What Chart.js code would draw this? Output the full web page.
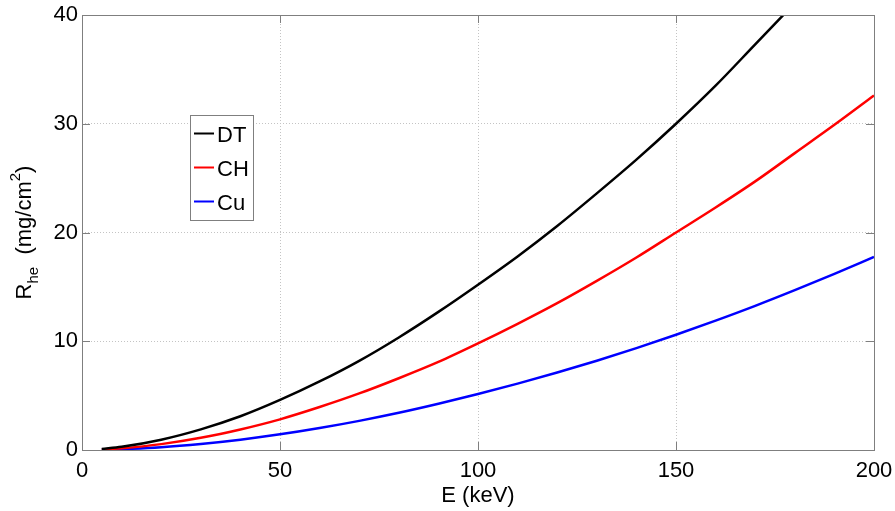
<!DOCTYPE html>
<html>
<head>
<meta charset="utf-8">
<script src="https://cdn.jsdelivr.net/npm/chart.js@4/dist/chart.umd.min.js"></script>
<style>
  html, body { margin: 0; padding: 0; background: #ffffff; }
  #wrap { width: 895px; height: 511px; }
</style>
</head>
<body>
<div id="wrap"><canvas id="c" width="895" height="511"></canvas></div>
<script>
// ---- Data ----
const energyDT = [5, 10, 20, 30, 40, 50, 60, 70, 80, 90, 100, 110, 120, 130, 140, 150, 160, 170, 180];
const rangeDT  = [0.09, 0.29, 0.95, 1.9, 3.1, 4.6, 6.3, 8.2, 10.35, 12.7, 15.2, 17.8, 20.6, 23.6, 26.7, 30.0, 33.5, 37.3, 41.1];

const energyCH = [5, 10, 20, 30, 40, 50, 60, 70, 80, 90, 100, 110, 120, 130, 140, 150, 160, 170, 180, 190, 200];
const rangeCH  = [0.045, 0.16, 0.54, 1.12, 1.89, 2.82, 3.95, 5.2, 6.6, 8.1, 9.8, 11.6, 13.5, 15.55, 17.7, 20.0, 22.3, 24.7, 27.3, 29.9, 32.6];

const energyCu = [5, 10, 20, 30, 40, 50, 60, 70, 80, 90, 100, 110, 120, 130, 140, 150, 160, 170, 180, 190, 200];
const rangeCu  = [0.02, 0.073, 0.26, 0.56, 0.95, 1.44, 2.02, 2.68, 3.42, 4.25, 5.15, 6.1, 7.12, 8.21, 9.37, 10.6, 11.9, 13.26, 14.7, 16.2, 17.75];

const seriesLabels = ['DT', 'CH', 'Cu'];
const seriesColors = ['#000000', '#ff0000', '#0000ff'];

const xTicks = [0, 50, 100, 150, 200];
const yTicks = [0, 10, 20, 30, 40];

const xTitle = 'E (keV)';

// ---- Build datasets ----
function pts(xs, ys) { return xs.map((x, i) => ({ x: x, y: ys[i] })); }
const seriesData = [pts(energyDT, rangeDT), pts(energyCH, rangeCH), pts(energyCu, rangeCu)];

const FONT = "'Liberation Sans', Arial, Helvetica, sans-serif";
Chart.defaults.font.family = FONT;
Chart.defaults.color = '#000000';

const frameColor = '#7f7f7f';

const framePlugin = {
  id: 'framePlugin',
  afterDatasetsDraw(chart) {
    const ctx = chart.ctx;
    const a = chart.chartArea;
    const xs = chart.scales.x, ys = chart.scales.y;
    ctx.save();
    ctx.strokeStyle = frameColor;
    ctx.lineWidth = 1;
    ctx.setLineDash([]);
    // box
    ctx.strokeRect(Math.round(a.left) + 0.5, Math.round(a.top) + 0.5,
                   Math.round(a.right - a.left), Math.round(a.bottom - a.top));
    // inward ticks
    const tl = 8;
    ctx.beginPath();
    xTicks.forEach(v => {
      const px = Math.round(xs.getPixelForValue(v)) + 0.5;
      ctx.moveTo(px, a.bottom); ctx.lineTo(px, a.bottom - tl);
      ctx.moveTo(px, a.top); ctx.lineTo(px, a.top + tl);
    });
    yTicks.forEach(v => {
      const py = Math.round(ys.getPixelForValue(v)) + 0.5;
      ctx.moveTo(a.left, py); ctx.lineTo(a.left + tl, py);
      ctx.moveTo(a.right, py); ctx.lineTo(a.right - tl, py);
    });
    ctx.stroke();
    ctx.restore();
  },
  afterDraw(chart) {
    const ctx = chart.ctx;
    const a = chart.chartArea;
    ctx.save();
    ctx.fillStyle = '#000000';

    // x title
    ctx.font = '22px ' + FONT;
    ctx.textAlign = 'center';
    ctx.textBaseline = 'alphabetic';
    ctx.fillText(xTitle, (a.left + a.right) / 2, 502);

    // y title with subscript / superscript
    const parts = [
      { t: 'R', size: 22, dy: 0 },
      { t: 'he', size: 15, dy: 7 },
      { t: '  (mg/cm', size: 22, dy: 0 },
      { t: '2', size: 15, dy: -11 },
      { t: ')', size: 22, dy: 0 }
    ];
    let total = 0;
    parts.forEach(p => { ctx.font = p.size + 'px ' + FONT; p.w = ctx.measureText(p.t).width; total += p.w; });
    ctx.translate(31, (a.top + a.bottom) / 2);
    ctx.rotate(-Math.PI / 2);
    ctx.textAlign = 'left';
    let cx = -total / 2;
    parts.forEach(p => {
      ctx.font = p.size + 'px ' + FONT;
      ctx.fillText(p.t, cx, p.dy);
      cx += p.w;
    });
    ctx.restore();

    // legend box
    ctx.save();
    const bx = 190.5, by = 115.5, bw = 63, bh = 105;
    ctx.fillStyle = '#ffffff';
    ctx.fillRect(bx, by, bw, bh);
    ctx.strokeStyle = frameColor;
    ctx.lineWidth = 1;
    ctx.strokeRect(bx, by, bw, bh);
    const rowY = [133.5, 167.5, 201.5];
    ctx.font = '22px ' + FONT;
    ctx.textAlign = 'left';
    ctx.textBaseline = 'middle';
    chart.data.datasets.forEach((ds, i) => {
      ctx.strokeStyle = ds.borderColor;
      ctx.lineWidth = 2;
      ctx.beginPath();
      ctx.moveTo(194, rowY[i]);
      ctx.lineTo(214, rowY[i]);
      ctx.stroke();
      ctx.fillStyle = '#000000';
      ctx.fillText(ds.label, 217, rowY[i] + 2);
    });
    ctx.restore();
  }
};

new Chart(document.getElementById('c'), {
  type: 'line',
  data: {
    datasets: seriesLabels.map((lab, i) => ({
      label: lab,
      data: seriesData[i],
      borderColor: seriesColors[i],
      backgroundColor: seriesColors[i],
      borderWidth: 2.5,
      pointRadius: 0,
      fill: false,
      cubicInterpolationMode: 'monotone'
    }))
  },
  options: {
    responsive: false,
    animation: false,
    devicePixelRatio: 1,
    layout: { padding: { left: 0, top: 15, right: 21, bottom: 0 } },
    plugins: { legend: { display: false }, tooltip: { enabled: false }, title: { display: false } },
    scales: {
      x: {
        type: 'linear',
        min: 0, max: 200,
        afterFit(s) { s.height = 61; s.paddingLeft = 0; s.paddingRight = 0; },
        afterBuildTicks(s) { s.ticks = xTicks.map(v => ({ value: v })); },
        ticks: { font: { size: 22 }, color: '#000000', padding: 8, maxRotation: 0 },
        grid: { color: '#c4c4c4', lineWidth: 1, drawTicks: false },
        border: { display: false, dash: [1, 2] }
      },
      y: {
        type: 'linear',
        min: 0, max: 40,
        afterFit(s) { s.width = 82; s.paddingTop = 0; s.paddingBottom = 0; },
        afterBuildTicks(s) { s.ticks = yTicks.map(v => ({ value: v })); },
        ticks: { font: { size: 22 }, color: '#000000', padding: 4 },
        grid: { color: '#c4c4c4', lineWidth: 1, drawTicks: false },
        border: { display: false, dash: [1, 2] }
      }
    }
  },
  plugins: [framePlugin]
});
</script>
</body>
</html>
